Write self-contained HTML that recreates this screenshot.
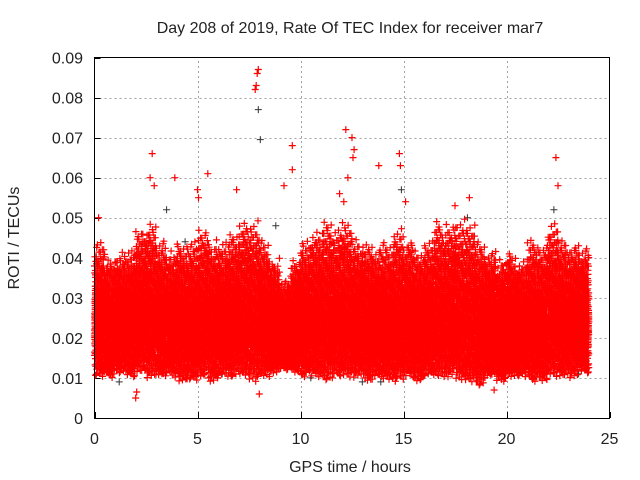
<!DOCTYPE html>
<html><head><meta charset="utf-8"><style>
html,body{margin:0;padding:0;background:#fff;width:640px;height:480px;overflow:hidden}
svg text{font-family:"Liberation Sans",sans-serif;font-size:16px;fill:#222}
</style></head><body>
<svg id="chart" width="640" height="480" xmlns="http://www.w3.org/2000/svg">
<text x="350" y="33" text-anchor="middle">Day 208 of 2019, Rate Of TEC Index for receiver mar7</text>
<text x="350" y="472" text-anchor="middle">GPS time / hours</text>
<text transform="translate(19,238) rotate(-90)" text-anchor="middle">ROTI / TECUs</text>
<g id="grid"></g>
<g id="ticks"></g>
<path id="gray" fill="none" stroke="#333" stroke-width="1"></path>
<path id="red" fill="none" stroke="#ff0000" stroke-width="1.2"></path>
<rect x="94.5" y="57.5" width="515" height="361" fill="none" stroke="#000" stroke-width="1"/>
</svg>
<script>
const xTicks=[0,5,10,15,20,25];
const yTicks=[0,0.01,0.02,0.03,0.04,0.05,0.06,0.07,0.08,0.09];
const yTickLabels=["0","0.01","0.02","0.03","0.04","0.05","0.06","0.07","0.08","0.09"];
// dense band per half-hour bin (0..24h)
const hiVals=[0.045,0.040,0.042,0.043,0.048,0.050,0.045,0.042,0.045,0.045,0.048,0.045,0.045,0.047,0.050,0.050,0.045,0.040,0.035,0.040,0.045,0.048,0.050,0.048,0.050,0.045,0.045,0.043,0.045,0.048,0.045,0.043,0.045,0.050,0.050,0.050,0.050,0.045,0.042,0.040,0.042,0.040,0.045,0.045,0.050,0.045,0.045,0.043];
const loVals=[0.010,0.010,0.011,0.010,0.011,0.010,0.010,0.010,0.009,0.009,0.010,0.009,0.010,0.010,0.010,0.009,0.010,0.011,0.012,0.011,0.010,0.010,0.009,0.010,0.010,0.010,0.009,0.010,0.009,0.009,0.010,0.009,0.010,0.010,0.010,0.009,0.009,0.008,0.010,0.009,0.010,0.010,0.009,0.009,0.010,0.010,0.010,0.011];
// outliers
const outX=[7.9,7.95,7.8,7.85,2.8,2.7,2.9,12.2,12.5,12.6,12.55,14.8,14.85,22.4,22.5,5.5,9.6,9.6,3.9,13.8,9.2,15.1,18.2,0.2,2.0,2.05,8.0,5.0,5.05,6.9,12.1,12.3,11.9,19.4,17.5];
const outY=[0.086,0.087,0.082,0.083,0.066,0.060,0.058,0.072,0.070,0.067,0.065,0.066,0.063,0.065,0.058,0.061,0.068,0.062,0.060,0.063,0.058,0.054,0.055,0.050,0.005,0.0065,0.006,0.057,0.055,0.057,0.054,0.060,0.056,0.007,0.053];
const grayX=[7.95,8.05,0.3,1.2,3.5,6.2,8.8,10.5,13.9,14.9,16.2,18.1,20.3,22.3,23.5,4.4,11.1,13.0];
const grayY=[0.077,0.0695,0.012,0.009,0.052,0.011,0.048,0.010,0.009,0.057,0.011,0.050,0.012,0.052,0.011,0.044,0.046,0.009];

const X0=94.5,X1=609.5,Y0=418,Y1=57.5;
const sx=v=>X0+(v-0)/(25-0)*(X1-X0);
const sy=v=>Y0-(v-0)/(0.09)*(Y0-Y1);
const NS="http://www.w3.org/2000/svg";
const grid=document.getElementById('grid'),ticks=document.getElementById('ticks');
function mk(tag,attrs,parent){const e=document.createElementNS(NS,tag);for(const k in attrs)e.setAttribute(k,attrs[k]);parent.appendChild(e);return e;}
xTicks.forEach(t=>{
  const x=Math.round(sx(t))+0.5;
  if(t>0&&t<25){const g=mk('line',{x1:x,x2:x,y1:Y0,y2:Y1,stroke:'#a0a0a0','stroke-dasharray':'2,3'},grid);
  
  }
  const l=mk('text',{x:sx(t),y:444,'text-anchor':'middle'},ticks);l.textContent=t;
  
  
  mk('line',{x1:x,x2:x,y1:Y0,y2:Y0-6,stroke:'#000'},ticks);
});
yTicks.forEach((t,i)=>{
  const y=Math.round(sy(t))+0.5;
  if(i>0&&i<yTicks.length-1){const g=mk('line',{x1:X0,x2:X1,y1:y,y2:y,stroke:'#a0a0a0','stroke-dasharray':'2,3'},grid);
  
  }
  const l=mk('text',{x:83,y:sy(t)+6,'text-anchor':'end'},ticks);l.textContent=yTickLabels[i];
  
  
  mk('line',{x1:X0,x2:X0+6,y1:y,y2:y,stroke:'#000'},ticks);
});
function cross(x,y){return `M${(x-3.5).toFixed(1)} ${y.toFixed(1)}h7M${x.toFixed(1)} ${(y-3.5).toFixed(1)}v7`;}
let d='';
const phi=0.6180339887,phi2=0.7548776662,phi3=0.5698402910;
let k=0;
for(let b=0;b<hiVals.length;b++){
  const lo=loVals[b],hi=hiVals[b];
  const n=440;
  for(let j=0;j<n;j++){
    k++;
    const u=(k*phi)%1,v1=(k*phi2)%1,v2=(k*phi3)%1;
    const t=Math.pow(0.55*v1+0.45*v2,1.25);
    const y=lo+(hi-lo)*t;
    const hr=b*0.5+u*0.5;
    d+=cross(sx(hr),sy(y));
  }
}
for(let i=0;i<outX.length;i++)d+=cross(sx(outX[i]),sy(outY[i]));
document.getElementById('red').setAttribute('d',d);
let g='';
for(let i=0;i<grayX.length;i++)g+=cross(sx(grayX[i]),sy(grayY[i]));
document.getElementById('gray').setAttribute('d',g);
</script>
</body></html>
